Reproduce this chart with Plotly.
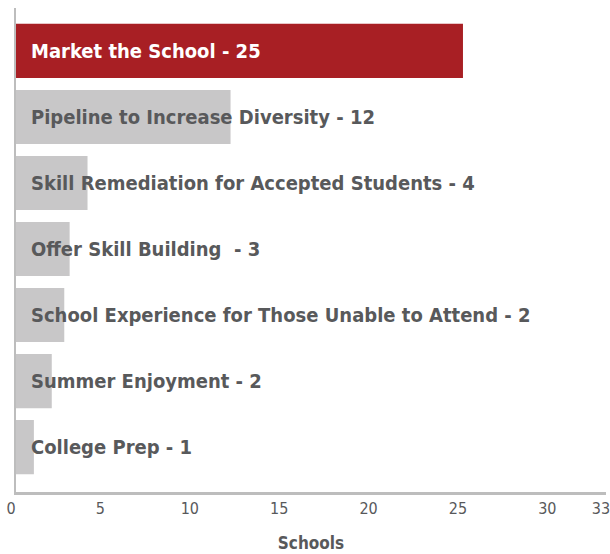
import plotly.graph_objects as go

categories = [
    "Market the School",
    "Pipeline to Increase Diversity",
    "Skill Remediation for Accepted Students",
    "Offer Skill Building ",
    "School Experience for Those Unable to Attend",
    "Summer Enjoyment",
    "College Prep",
]
values = [25, 12, 4, 3, 2.7, 2, 1]
value_labels = ["25", "12", "4", "3", "2", "2", "1"]
tick_vals = [0, 5, 10, 15, 20, 25, 30, 33]

RED = "#a81f24"
GRAY_BAR = "#c8c7c8"
TEXT_GRAY = "#58595b"
AXIS_GRAY = "#bdbdbd"
FONT = "DejaVu Sans Condensed, Liberation Sans Narrow, Arial Narrow, sans-serif"

colors = [RED] + [GRAY_BAR] * (len(categories) - 1)
ypos = list(range(len(categories)))

fig = go.Figure()
fig.add_trace(go.Bar(
    x=values, y=ypos, orientation="h",
    marker=dict(color=colors, line=dict(width=0)),
    width=0.82, hoverinfo="skip",
))

for i, (c, lab) in enumerate(zip(categories, value_labels)):
    fig.add_annotation(
        x=0, y=i, xref="x", yref="y",
        text=f"<b>{c} - {lab}</b>",
        showarrow=False, xanchor="left", yanchor="middle", xshift=13,
        font=dict(family=FONT, size=20, color="white" if i == 0 else TEXT_GRAY),
    )

fig.update_layout(
    width=610, height=554,
    margin=dict(l=16, r=4, t=8, b=62, autoexpand=False),
    paper_bgcolor="white", plot_bgcolor="white",
    showlegend=False,
    font=dict(family=FONT, color=TEXT_GRAY),
    xaxis=dict(
        range=[0, 33], tickvals=tick_vals, ticktext=[str(t) for t in tick_vals],
        showgrid=False, zeroline=False, showline=True, linecolor=AXIS_GRAY, linewidth=2.5,
        ticks="", tickfont=dict(family=FONT, size=16, color=TEXT_GRAY),
        ticklabelshift=-5, ticklabeloverflow="allow", automargin=False,
        title=dict(text="<b>Schools</b>", font=dict(family=FONT, size=17, color=TEXT_GRAY), standoff=21),
        fixedrange=True,
    ),
    yaxis=dict(
        range=[6.68, -0.65], showticklabels=False, showgrid=False, zeroline=False,
        showline=True, linecolor=AXIS_GRAY, linewidth=2.5, ticks="", fixedrange=True,
        automargin=False,
    ),
)

# remove the browser's default 8px body margin so the 610x554 figure fills the window
fig.write_html(
    "out.html",
    config={"displayModeBar": False, "staticPlot": True},
    post_script="document.body.style.margin='0';document.body.style.overflow='hidden';",
)
